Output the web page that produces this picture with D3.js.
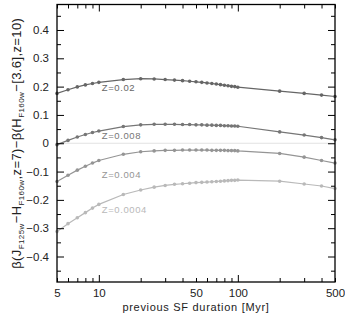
<!DOCTYPE html>
<html>
<head>
<meta charset="utf-8">
<script src="https://cdn.jsdelivr.net/npm/d3@7"></script>
<style>
  body { margin: 0; background: #fff; }
  svg { font-family: "Liberation Sans", Arial, sans-serif; }
</style>
</head>
<body>
<script>
const width = 345;
const height = 315;
const margin = {top: 4.5, right: 10, bottom: 33, left: 57};

// previous SF duration [Myr]
const durations = [5, 6, 7, 8, 9, 10, 15, 20, 25, 30, 35, 40, 45, 50, 55, 60, 65, 70, 75, 80, 85, 90, 95, 100, 200, 300, 400, 500];

const zLabels = ['Z=0.02', 'Z=0.008', 'Z=0.004', 'Z=0.0004'];
const betaZ002 = [0.176, 0.189, 0.199, 0.206, 0.211, 0.215, 0.225, 0.228, 0.227, 0.225, 0.223, 0.221, 0.219, 0.217, 0.215, 0.213, 0.211, 0.209, 0.207, 0.205, 0.203, 0.201, 0.200, 0.198, 0.184, 0.176, 0.170, 0.165];
const betaZ0008 = [-0.005, 0.010, 0.022, 0.031, 0.038, 0.043, 0.059, 0.065, 0.067, 0.067, 0.067, 0.066, 0.066, 0.065, 0.065, 0.064, 0.064, 0.063, 0.063, 0.062, 0.062, 0.061, 0.061, 0.060, 0.040, 0.029, 0.020, 0.012];
const betaZ0004 = [-0.135, -0.113, -0.095, -0.081, -0.070, -0.061, -0.039, -0.030, -0.027, -0.025, -0.025, -0.024, -0.024, -0.024, -0.024, -0.024, -0.025, -0.025, -0.025, -0.025, -0.026, -0.026, -0.026, -0.027, -0.036, -0.049, -0.061, -0.070];
const betaZ00004 = [-0.312, -0.284, -0.263, -0.245, -0.229, -0.216, -0.181, -0.165, -0.155, -0.149, -0.145, -0.143, -0.141, -0.139, -0.138, -0.137, -0.136, -0.135, -0.134, -0.133, -0.132, -0.131, -0.131, -0.130, -0.134, -0.144, -0.151, -0.160];

const xLabelTicks = [5, 10, 50, 100, 500];
const xMajorTicks = [10, 100];
const xMinorTicks = [5, 6, 7, 8, 9, 20, 30, 40, 50, 60, 70, 80, 90, 200, 300, 400, 500];
const yMajorTicks = [-0.4, -0.3, -0.2, -0.1, 0, 0.1, 0.2, 0.3, 0.4];
const yMinorTicks = [-0.45, -0.35, -0.25, -0.15, -0.05, 0.05, 0.15, 0.25, 0.35, 0.45];

const series = [betaZ002, betaZ0008, betaZ0004, betaZ00004];
const colors = ['#666666', '#767676', '#959595', '#b9b9b9'];
// label anchor: duration where text starts, and value at its baseline
const labelPos = [[10.5, 0.186], [10.5, 0.014], [10.5, -0.123], [10.5, -0.247]];

const svg = d3.select('body')
              .append('svg')
              .attr('width', width)
              .attr('height', height)

const x = d3.scaleLog()
            .domain([5, 500])
            .range([margin.left, width - margin.right])

const y = d3.scaleLinear()
            .domain([-0.49, 0.49])
            .range([height - margin.bottom, margin.top])

// zero line
svg.append('line')
    .attr('x1', x(5)).attr('x2', x(500))
    .attr('y1', y(0)).attr('y2', y(0))
    .attr('stroke', '#e2e2e2')
    .attr('stroke-width', 1.2)

const line = d3.line()
               .x((d, i) => x(durations[i]))
               .y(d => y(d))

series.forEach((vals, k) => {
  svg.append('path')
      .datum(vals)
      .attr('d', line)
      .attr('fill', 'none')
      .attr('stroke', colors[k])
      .attr('stroke-width', 1.2)

  svg.append('g')
      .selectAll('circle')
      .data(vals)
      .enter()
      .append('circle')
      .attr('cx', (d, i) => x(durations[i]))
      .attr('cy', d => y(d))
      .attr('r', 1.8)
      .attr('fill', colors[k])

  svg.append('text')
      .text(zLabels[k])
      .attr('x', x(labelPos[k][0]))
      .attr('y', y(labelPos[k][1]))
      .attr('fill', colors[k])
      .style('font-size', '9.5px')
      .style('letter-spacing', '0.6px')
})

// ticks, all pointing inward
function tickAxis(axis, values, size, transform) {
  const g = svg.append('g')
      .attr('transform', transform)
      .call(axis.tickValues(values).tickSize(size).tickFormat(''))
  g.select('.domain').remove()
  g.selectAll('line').attr('stroke', '#000').attr('stroke-width', 1)
}
const atBottom = `translate(0,${height - margin.bottom})`;
const atTop = `translate(0,${margin.top})`;
const atLeft = `translate(${margin.left},0)`;
const atRight = `translate(${width - margin.right},0)`;

tickAxis(d3.axisBottom(x), xMajorTicks, -7, atBottom)
tickAxis(d3.axisBottom(x), xMinorTicks, -4, atBottom)
tickAxis(d3.axisTop(x), xMajorTicks, -7, atTop)
tickAxis(d3.axisTop(x), xMinorTicks, -4, atTop)
tickAxis(d3.axisLeft(y), yMajorTicks, -7, atLeft)
tickAxis(d3.axisLeft(y), yMinorTicks, -4, atLeft)
tickAxis(d3.axisRight(y), yMajorTicks, -7, atRight)
tickAxis(d3.axisRight(y), yMinorTicks, -4, atRight)

// tick labels
const xLab = svg.append('g')
    .attr('transform', atBottom)
    .call(d3.axisBottom(x).tickValues(xLabelTicks).tickSize(0).tickPadding(7).tickFormat(d3.format('d')))
xLab.select('.domain').remove()
xLab.selectAll('text').style('font-size', '11.5px').attr('fill', '#222').style('font-family', 'Liberation Sans, Arial, sans-serif')

const yLab = svg.append('g')
    .attr('transform', atLeft)
    .call(d3.axisLeft(y).tickValues(yMajorTicks).tickSize(0).tickPadding(8)
      .tickFormat(d => d === 0 ? '0' : d3.format('.1f')(d).replace('-', '\u2212')))
yLab.select('.domain').remove()
yLab.selectAll('text').style('font-size', '11.5px').attr('fill', '#222').style('font-family', 'Liberation Sans, Arial, sans-serif')

// frame
svg.append('rect')
    .attr('x', margin.left)
    .attr('y', margin.top)
    .attr('width', width - margin.left - margin.right)
    .attr('height', height - margin.top - margin.bottom)
    .attr('fill', 'none')
    .attr('stroke', '#000')
    .attr('stroke-width', 1.3)

// axis titles
svg.append('text')
    .text('previous SF duration [Myr]')
    .attr('x', (margin.left + width - margin.right) / 2)
    .attr('y', 311)
    .attr('text-anchor', 'middle')
    .attr('fill', '#222')
    .style('font-size', '11px')
    .style('letter-spacing', '0.7px')

const yTitle = svg.append('text')
    .attr('transform', `translate(21,${(margin.top + height - margin.bottom) / 2}) rotate(-90)`)
    .attr('text-anchor', 'middle')
    .attr('fill', '#222')
    .style('font-size', '13px')
    .style('letter-spacing', '0.4px')

const parts = [
  ['\u03b2(J', false], ['F125w', true], ['\u2212H', false], ['F160w', true],
  [',z=7)\u2212\u03b2(H', false], ['F160w', true], ['\u2212[3.6],z=10)', false]
];
parts.forEach(([t, sub], i) => {
  const prevSub = i > 0 && parts[i - 1][1];
  yTitle.append('tspan')
      .text(t)
      .attr('dy', sub ? 3 : (prevSub ? -3 : 0))
      .style('font-size', sub ? '8px' : '13px')
})
</script>
</body>
</html>
